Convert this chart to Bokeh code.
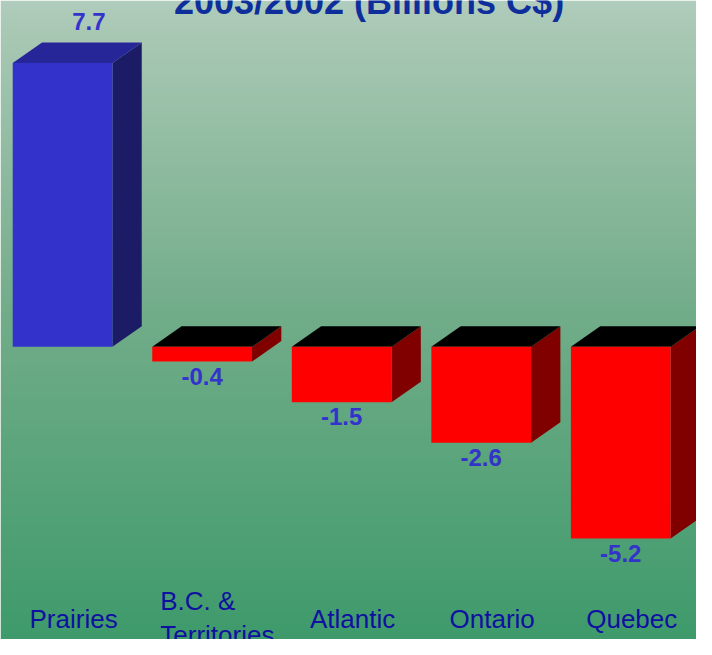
import numpy as np
from bokeh.plotting import figure
from bokeh.models import Range1d, ColumnDataSource
from bokeh.core.properties import value
from bokeh.embed import file_html
from bokeh.resources import INLINE

# ---- data ----
categories = ["Prairies", "B.C. &\nTerritories", "Atlantic", "Ontario", "Quebec"]
values = [7.7, -0.4, -1.5, -2.6, -5.2]
title_text = "2003/2002 (Billions C$)"

# ---- layout: reference is 712x655, figure fits the window inside 8px margins ----
REF_W, REF_H = 712, 655
W, H = 696, 639
sx, sy = W / REF_W, H / REF_H
px_per_cat = 142.75      # reference px per category
px_per_unit = 37.8       # reference px per billion
cat0_px = 63.5           # reference x of first category centre
zero_px = 355.0          # reference y of the zero line

x_start = (0 - cat0_px) / px_per_cat
x_end = (REF_W - cat0_px) / px_per_cat
y_end = zero_px / px_per_unit
y_start = (zero_px - REF_H) / px_per_unit

half_w = 51 / px_per_cat
dx = 30 / px_per_cat
dy = 21 / px_per_unit

p = figure(width=W, height=H, x_range=Range1d(x_start, x_end),
           y_range=Range1d(y_start, y_end), min_border=0,
           toolbar_location=None, output_backend="svg",
           x_axis_location=None, y_axis_location=None)
p.grid.visible = False
p.outline_line_color = None
p.background_fill_color = None
p.border_fill_color = "#6fab89"

# ---- background gradient (vertical, light grey-green to green) ----
stops_y = [0, 30, 310, 655]
stops_c = [(176, 204, 189), (169, 200, 180), (115, 173, 138), (62, 154, 107)]
img = np.zeros((H, 1), dtype=np.uint32)
view = img.view(dtype=np.uint8).reshape((H, 1, 4))
for fy in range(H):
    Y = fy / sy
    row = H - 1 - fy
    for k in range(3):
        view[row, 0, k] = int(round(np.interp(Y, stops_y, [s[k] for s in stops_c])))
    view[row, 0, 3] = 255
p.image_rgba(image=[img], x=x_start, y=y_start, dw=x_end - x_start, dh=y_end - y_start)

# ---- 3D bars ----
front_pos, top_pos, side_pos = "#3333CC", "#262699", "#1C1C66"
front_neg, top_neg, side_neg = "#FF0000", "#000000", "#800000"

side_xs, side_ys, side_c = [], [], []
top_xs, top_ys, top_c = [], [], []
fl, fr, fb, ft, fc = [], [], [], [], []
for i, v in enumerate(values):
    l, r = i - half_w, i + half_w
    top = max(v, 0)
    bot = min(v, 0)
    pos = v >= 0
    side_xs.append([r, r, r + dx, r + dx])
    side_ys.append([bot, top, top + dy, bot + dy])
    side_c.append(side_pos if pos else side_neg)
    top_xs.append([l, r, r + dx, l + dx])
    top_ys.append([top, top, top + dy, top + dy])
    top_c.append(top_pos if pos else top_neg)
    fl.append(l); fr.append(r); fb.append(bot); ft.append(top)
    fc.append(front_pos if pos else front_neg)

p.patches(xs=side_xs, ys=side_ys, fill_color=side_c, line_color=None)
p.patches(xs=top_xs, ys=top_ys, fill_color=top_c, line_color=None)
p.quad(left=fl, right=fr, bottom=fb, top=ft, fill_color=fc, line_color=None)

# ---- value labels ----
lab = lambda v: f"{v:.1f}"
pos_src = ColumnDataSource(dict(
    x=[i + dx for i, v in enumerate(values) if v >= 0],
    y=[v + dy for v in values if v >= 0],
    t=[lab(v) for v in values if v >= 0]))
neg_src = ColumnDataSource(dict(
    x=[i for i, v in enumerate(values) if v < 0],
    y=[v for v in values if v < 0],
    t=[lab(v) for v in values if v < 0]))
common = dict(text_font=value("Liberation Sans"), text_font_style="bold",
              text_font_size="24px", text_color="#3333CC", text_align="center",
              text_baseline="top")
p.text(x="x", y="y", text="t", source=pos_src, x_offset=-3, y_offset=-29, **common)
p.text(x="x", y="y", text="t", source=neg_src, y_offset=6, **common)

# ---- category labels ----
single = ColumnDataSource(dict(
    x=[i for i, c in enumerate(categories) if "\n" not in c],
    y=[(zero_px - 619) / px_per_unit for c in categories if "\n" not in c],
    t=[c for c in categories if "\n" not in c]))
multi = ColumnDataSource(dict(
    x=[i - half_w for i, c in enumerate(categories) if "\n" in c],
    y=[(zero_px - 600) / px_per_unit for c in categories if "\n" in c],
    t=[c for c in categories if "\n" in c]))
catstyle = dict(text_font=value("Liberation Sans"), text_font_size="26px",
                text_color="#1010A0", text_baseline="top")
p.text(x="x", y="y", text="t", source=single, text_align="center",
       x_offset=11, **catstyle)
p.text(x="x", y="y", text="t", source=multi, text_align="left",
       x_offset=8, text_line_height=1.15, **catstyle)

# ---- title (partly cut off at top, as in the reference) ----
title_src = ColumnDataSource(dict(x=[(377 - cat0_px) / px_per_cat],
                                  y=[(zero_px + 19.5) / px_per_unit],
                                  t=[title_text]))
p.text(x="x", y="y", text="t", source=title_src, text_font=value("Liberation Sans"),
       text_font_style="bold", text_font_size="36px", text_color="#0D2E9B",
       text_align="center", text_baseline="top")

open("out.html", "w").write(file_html(p, INLINE))
